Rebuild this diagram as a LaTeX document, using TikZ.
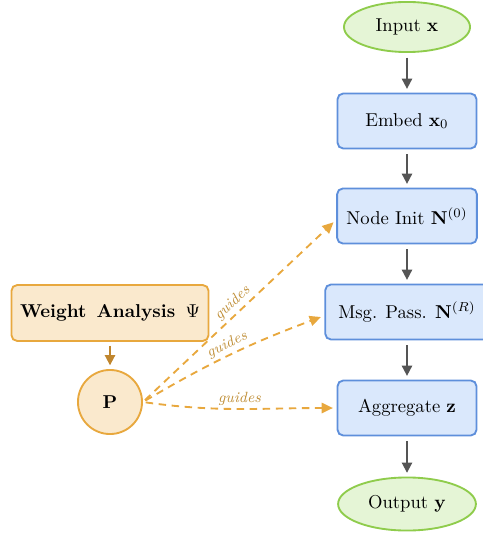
\documentclass[tikz,border=0pt]{standalone}
\usetikzlibrary{arrows.meta,shapes.geometric}
\definecolor{bluefill}{HTML}{DAE8FC}
\definecolor{blueline}{HTML}{5E8FDB}
\definecolor{greenfill}{HTML}{E5F5D6}
\definecolor{greenline}{HTML}{8FCC4C}
\definecolor{orfill}{HTML}{FAE9CD}
\definecolor{orline}{HTML}{E8A83E}
\definecolor{brarrow}{HTML}{C0862E}
\definecolor{lblcol}{HTML}{C0903A}
\definecolor{grayarrow}{HTML}{555555}
\tikzset{
  procbox/.style={draw=blueline, fill=bluefill, line width=1pt, rounded corners=3pt,
    minimum width=74.6pt, minimum height=29.5pt, inner sep=5pt},
  termnode/.style={ellipse, draw=greenline, fill=greenfill, line width=1pt, inner sep=1pt},
  orbox/.style={draw=orline, fill=orfill, line width=1pt, rounded corners=3pt,
    minimum width=105.8pt, minimum height=30pt, inner sep=4pt},
  orcirc/.style={circle, draw=orline, fill=orfill, line width=1pt, minimum size=34.4pt, inner sep=0pt},
  flow/.style={draw=grayarrow, line width=1pt, -{Triangle[length=5.5pt,width=5.5pt]},
    shorten >=2pt, shorten <=2.5pt},
  feed/.style={draw=brarrow, line width=1pt, -{Triangle[length=5.5pt,width=5.5pt]},
    shorten >=2pt, shorten <=2pt},
  guide/.style={draw=orline, line width=1pt, dash pattern=on 4pt off 3pt,
    -{Triangle[length=6pt,width=5.5pt]}, shorten >=2pt, shorten <=1.5pt},
  glabel/.style={font=\footnotesize\itshape, text=lblcol, sloped, above, inner sep=1.5pt}
}
\begin{document}
\begin{tikzpicture}[x=0.537pt, y=-0.537pt]
\useasboundingbox (0,0) rectangle (482,533);
\node[termnode, minimum width=67.7pt, minimum height=26.9pt] (in) at (407,27) {Input $\mathbf{x}$};
\node[procbox] (emb) at (407,121) {Embed $\mathbf{x}_0$};
\node[procbox] (init) at (407,216) {Node Init $\mathbf{N}^{(0)}$};
\node[procbox, inner xsep=7pt] (msg) at (407,312) {Msg. Pass. $\mathbf{N}^{(R)}$};
\node[procbox] (agg) at (407,408) {Aggregate $\mathbf{z}$};
\node[termnode, minimum width=74pt, minimum height=28.5pt] (out) at (407,504) {Output $\mathbf{y}$};
\node[orbox] (wa) at (110,313) {\textbf{Weight\hspace{5.5pt}Analysis}\hspace{5.5pt}$\Psi$};
\node[orcirc] (p) at (110,402) {$\mathbf{P}$};

\draw[flow] (in) -- (emb);
\draw[flow] (emb) -- (init);
\draw[flow] (init) -- (msg);
\draw[flow] (msg) -- (agg);
\draw[flow] (agg) -- (out);
\draw[feed] (wa) -- (p);

\draw[guide] (p.east) -- node[glabel, pos=0.5] {guides} ([yshift=-2pt]init.west);
\draw[guide] (p.east) to[bend left=5] node[glabel, pos=0.5] {guides} ([yshift=-2pt]msg.west);
\draw[guide] (p.east) to[out=-8, in=180] node[glabel, pos=0.5] {guides} (agg.west);
\end{tikzpicture}
\end{document}
